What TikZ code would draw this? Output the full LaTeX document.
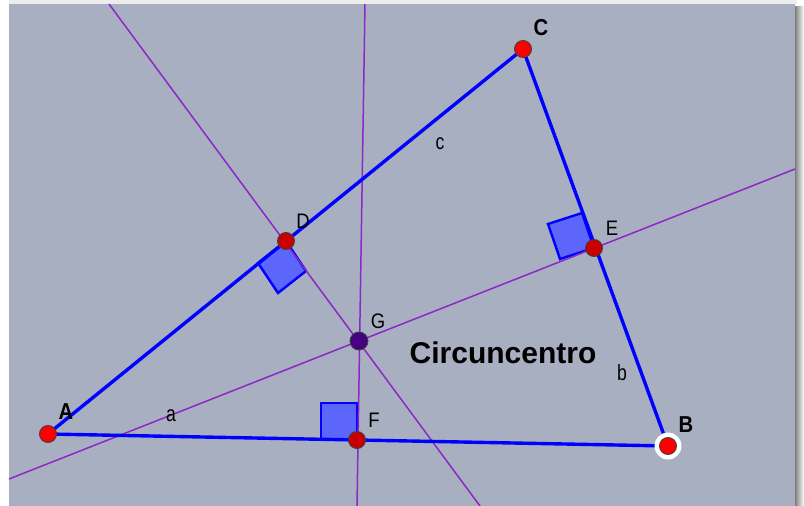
\documentclass[tikz,border=0pt]{standalone}
\usepackage{fontspec}
\setmainfont{Liberation Sans}
\newfontfamily\lblfont[FakeStretch=0.88]{Liberation Sans}
\newfontfamily\smlfont[FakeStretch=0.8]{Liberation Sans}
\definecolor{bg}{RGB}{168,175,192}
\definecolor{side}{RGB}{0,0,255}
\definecolor{bis}{RGB}{140,40,200}
\definecolor{sqfill}{RGB}{92,102,250}
\definecolor{ptred}{RGB}{255,0,0}
\definecolor{ptdark}{RGB}{200,0,0}
\definecolor{ptg}{RGB}{70,0,130}
\tikzset{
  sideline/.style={draw=side, line width=3.4pt},
  bisline/.style={draw=bis, line width=1.5pt},
  rightmark/.style={draw=side, fill=sqfill, line width=2.4pt, line join=miter},
  dot/.style={circle, draw=black!75, line width=0.9pt, minimum size=17pt, inner sep=0pt},
  ring/.style={circle, fill=white, minimum size=27pt, inner sep=0pt},
  vlbl/.style={font=\lblfont\bfseries\fontsize{23}{26}\selectfont, inner sep=0pt},
  plbl/.style={font=\lblfont\fontsize{21}{24}\selectfont, inner sep=0pt},
  slbl/.style={font=\smlfont\fontsize{22}{24}\selectfont, inner sep=0pt},
  title/.style={font=\bfseries\fontsize{30}{34}\selectfont, inner sep=0pt}
}
\begin{document}
\begin{tikzpicture}[x=1pt,y=-1pt]
\useasboundingbox (0,0) rectangle (804,506);
% frame and background
\fill[white] (0,0) rectangle (804,506);
\fill[black!7] (9,0) rectangle (797,4);
\shade[left color=black!50, right color=white] (795,6) rectangle (804,506);
\fill[bg] (9,4) rectangle (795,506);
% key points
\coordinate (A) at (48,434);
\coordinate (B) at (668,446);
\coordinate (C) at (523,49);
\coordinate (D) at (286,241);
\coordinate (E) at (594,248);
\coordinate (F) at (357,440);
\coordinate (G) at (359,341);
% ends of the perpendicular bisectors
\coordinate (L1a) at (109,4);
\coordinate (L1b) at (480,506);
\coordinate (L2a) at (365,4);
\coordinate (L2b) at (357,506);
\coordinate (L3a) at (9,479);
\coordinate (L3b) at (795,169);
% right-angle marks
\draw[rightmark] (D) -- (258,263) -- (278,293) -- (306,271) -- cycle;
\draw[rightmark] (E) -- (582,213) -- (548,224) -- (560,259) -- cycle;
\draw[rightmark] (F) -- (357,403) -- (321,403) -- (321,440) -- cycle;
% bisectors
\draw[bisline] (L1a) -- (L1b);
\draw[bisline] (L2a) -- (L2b);
\draw[bisline] (L3a) -- (L3b);
% sides
\draw[sideline] (A) -- (B);
\draw[sideline] (B) -- (C);
\draw[sideline] (C) -- (A);
% points
\node[ring] (Bring) at (B) {};
\node[dot, fill=ptred] (Adot) at (A) {};
\node[dot, fill=ptred] (Bdot) at (B) {};
\node[dot, fill=ptred] (Cdot) at (C) {};
\node[dot, fill=ptdark] (Ddot) at (D) {};
\node[dot, fill=ptdark] (Edot) at (E) {};
\node[dot, fill=ptdark] (Fdot) at (F) {};
\node[dot, fill=ptg, minimum size=18pt] (Gdot) at (G) {};
% labels
\node[vlbl] (Alab) at (66,412) {A};
\node[vlbl] (Blab) at (686,425) {B};
\node[vlbl] (Clab) at (541,28) {C};
\node[plbl] (Dlab) at (303,221) {D};
\node[plbl] (Elab) at (612,228) {E};
\node[plbl] (Flab) at (374,420) {F};
\node[plbl] (Glab) at (378,321) {G};
\node[slbl] (alab) at (171,416) {a};
\node[slbl] (blab) at (622,373) {b};
\node[slbl] (clab) at (440,144) {c};
\node[title] (ttl) at (503,353) {Circuncentro};
\end{tikzpicture}
\end{document}
